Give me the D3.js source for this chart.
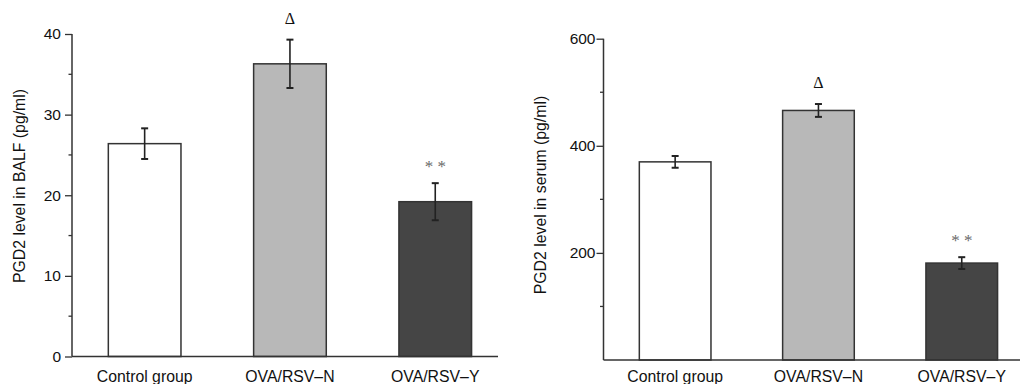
<!DOCTYPE html>
<html><head><meta charset="utf-8">
<script src="https://cdn.jsdelivr.net/npm/d3@7"></script>
<style>body{margin:0;background:#fff}svg{display:block}</style>
</head><body>
<svg id="c" width="1020" height="384"></svg>
<script>
const categories = ["Control group", "OVA/RSV\u2013N", "OVA/RSV\u2013Y"];
const balfValues = [26.4, 36.3, 19.2];
const balfErrors = [1.9, 3.0, 2.3];
const serumValues = [370, 466, 181];
const serumErrors = [11, 12, 11];
const marks = ["", "\u0394", "* *"];
const balfTicks = [0, 10, 20, 30, 40];
const balfMinor = [5, 15, 25, 35];
const serumTicks = [200, 400, 600];
const serumMinor = [100, 300, 500];
const fills = ["#ffffff", "#b8b8b8", "#454545"];

const svg = d3.select("#c");
const font = "'Liberation Sans', Arial, Helvetica, sans-serif";

function panel(cfg) {
  const g = svg.append("g");
  const y = d3.scaleLinear().domain(cfg.domain).range([cfg.y0, cfg.y1]);
  const x = d3.scaleBand().domain(categories).range([cfg.x0, cfg.x0 + cfg.step * 3])
    .paddingInner(0.5).paddingOuter(0.25);

  g.selectAll("rect.bar").data(categories).enter().append("rect")
    .attr("x", d => x(d)).attr("width", x.bandwidth())
    .attr("y", (d, i) => y(cfg.values[i]))
    .attr("height", (d, i) => y(0) - y(cfg.values[i]))
    .attr("fill", (d, i) => fills[i]).attr("stroke", "#333").attr("stroke-width", 1.5);

  const eb = g.selectAll("g.eb").data(categories).enter().append("g")
    .attr("stroke", "#222").attr("stroke-width", 1.6);
  eb.append("line")
    .attr("x1", d => x(d) + x.bandwidth() / 2).attr("x2", d => x(d) + x.bandwidth() / 2)
    .attr("y1", (d, i) => y(cfg.values[i] + cfg.errors[i]))
    .attr("y2", (d, i) => y(cfg.values[i] - cfg.errors[i]));
  [1, -1].forEach(s => {
    eb.append("line")
      .attr("x1", d => x(d) + x.bandwidth() / 2 - 3.5).attr("x2", d => x(d) + x.bandwidth() / 2 + 3.5)
      .attr("y1", (d, i) => y(cfg.values[i] + s * cfg.errors[i]))
      .attr("y2", (d, i) => y(cfg.values[i] + s * cfg.errors[i]))
      .attr("stroke-width", 2);
  });

  g.selectAll("text.mark").data(categories).enter().append("text")
    .attr("x", d => x(d) + x.bandwidth() / 2)
    .attr("y", (d, i) => y(cfg.values[i] + cfg.errors[i]) - (i === 1 ? 16 : 11))
    .attr("text-anchor", "middle")
    .attr("font-family", "'Liberation Serif', 'Times New Roman', serif")
    .attr("font-size", (d, i) => i === 1 ? 16 : 17)
    .attr("fill", (d, i) => i === 1 ? "#111" : "#6a6a6a")
    .text((d, i) => marks[i]);

  const ax = g.append("g").attr("transform", `translate(${cfg.x0},0)`)
    .call(d3.axisLeft(y).tickValues(cfg.ticks).tickSize(7).tickPadding(cfg.pad).tickFormat(d3.format("d")));
  ax.select(".domain").attr("d", `M0,${y(0)}V${y(cfg.domain[1])}`).attr("stroke", "#333").attr("stroke-width", 1.5);
  ax.selectAll(".tick line").attr("stroke", "#333").attr("stroke-width", 1.3);
  ax.selectAll(".tick text").attr("font-family", font).attr("font-size", 15.5).attr("fill", "#111");
  g.selectAll("line.minor").data(cfg.minor).enter().append("line")
    .attr("x1", cfg.x0 - 3.5).attr("x2", cfg.x0)
    .attr("y1", d => y(d)).attr("y2", d => y(d))
    .attr("stroke", "#333").attr("stroke-width", 1.3);

  g.append("line").attr("x1", cfg.x0).attr("x2", cfg.xEnd)
    .attr("y1", y(0)).attr("y2", y(0)).attr("stroke", "#333").attr("stroke-width", 1.5);

  g.selectAll("text.cat").data(categories).enter().append("text")
    .attr("x", d => x(d) + x.bandwidth() / 2).attr("y", 381.5)
    .attr("text-anchor", "middle").attr("font-family", font).attr("font-size", 15.8)
    .attr("fill", "#111").text(d => d);

  g.append("text")
    .attr("transform", `translate(${cfg.titleX},${cfg.titleY}) rotate(-90)`)
    .attr("text-anchor", "middle").attr("font-family", font).attr("font-size", 15.8)
    .attr("fill", "#111").text(cfg.title);
}

panel({ domain: [0, 40], y0: 356.5, y1: 34, x0: 72, step: 145.3, xEnd: 498,
  values: balfValues, errors: balfErrors, ticks: balfTicks, minor: balfMinor, pad: 4,
  title: "PGD2 level in BALF (pg/ml)", titleX: 25, titleY: 186 });
panel({ domain: [0, 600], y0: 360, y1: 38.7, x0: 603.5, step: 143.3, xEnd: 1020,
  values: serumValues, errors: serumErrors, ticks: serumTicks, minor: serumMinor, pad: 1,
  title: "PGD2 level in serum (pg/ml)", titleX: 546, titleY: 195 });
</script>
</body></html>
